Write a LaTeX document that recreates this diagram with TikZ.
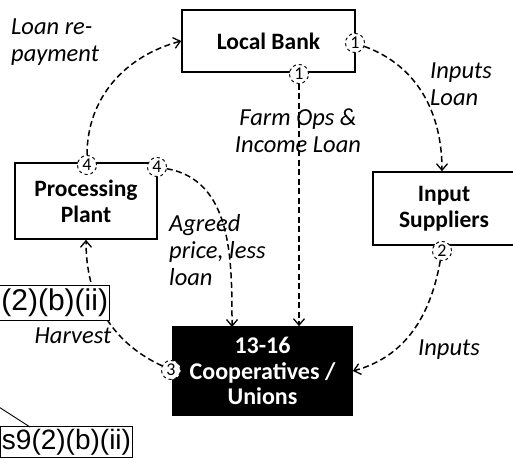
\documentclass[tikz,border=0pt]{standalone}
\usepackage{fontspec}
\setmainfont{Carlito}
\newfontfamily\reffont{Liberation Sans}
\usetikzlibrary{arrows.meta}
\begin{document}
\begin{tikzpicture}[x=1pt,y=-1pt,
  box/.style={draw=black, line width=1.6pt, fill=white, align=center, inner sep=0pt,
    font=\fontsize{23.5}{26}\selectfont\bfseries},
  num/.style={circle, draw=black, dashed, line width=0.8pt, fill=white, inner sep=0pt,
    minimum size=19pt, font=\fontsize{18}{18}\selectfont},
  flow/.style={line width=1.5pt, dash pattern=on 6pt off 3.5pt,
    -{Straight Barb[length=6.5pt,width=11pt,line width=1.3pt]}},
  lab/.style={font=\fontsize{24.5}{27}\selectfont\itshape, align=left, inner sep=0pt},
  refbox/.style={draw=black, line width=0.9pt, fill=white, inner sep=1.5pt,
    font=\reffont\fontsize{28}{30}\selectfont}
]
\clip (0,0) rectangle (513,458);
\useasboundingbox (0,0) rectangle (513,458);
\fill[white] (0,0) rectangle (513,458);

% main boxes
\node[box, minimum width=173pt, minimum height=62pt] (bank) at (268.5,41) {Local Bank};
\node[box, minimum width=142pt, minimum height=76pt] (plant) at (86,201) {Processing\\Plant};
\node[box, minimum width=142pt, minimum height=73pt] (supp) at (444,208.5) {Input\\Suppliers};
\node[box, fill=black, text=white, minimum width=179pt, minimum height=88pt,
  font=\fontsize{24}{25.5}\selectfont\bfseries] (coop) at (262.5,371) {13-16\\Cooperatives /\\Unions};

% step markers
\node[num] (c1r) at (355,43) {1};
\node[num] (c1b) at (299,74) {1};
\node[num] (c4a) at (87,165) {4};
\node[num] (c4b) at (157,167) {4};
\node[num] (c2) at (442,251) {2};
\node[num] (c3) at (171,370) {3};

\coordinate (agIn) at (232,327);

% flows
\draw[flow] (c4a) to[out=90,in=195] (bank.west);
\draw[flow] (c1b) -- (c1b |- coop.north);
\draw[flow] (c1r) to[out=-20,in=90] (c2 |- supp.north);
\draw[flow] (c2) to[out=-100,in=15] (coop.east);
\draw[flow] (c4b) to[out=-10,in=90] (agIn);
\draw[flow] (c3) to[out=155,in=-90] (plant.south);

% redraw markers on top
\node[num] at (c1r) {1};
\node[num] at (c1b) {1};
\node[num] at (c4a) {4};
\node[num] at (c4b) {4};
\node[num] at (c2) {2};
\node[num] at (c3) {3};

% labels
\node[lab, anchor=west] (lLoan) at (11,42) {Loan re-\\payment};
\node[lab, align=center] (lFarm) at (298,131) {Farm Ops \&\\Income Loan};
\node[lab, anchor=west] (lInL) at (430,84) {Inputs\\Loan};
\node[lab, anchor=west] (lAgr) at (169,250) {Agreed\\price, less\\loan};
\node[lab] (lHarv) at (73,336) {Harvest};
\node[lab] (lInp) at (449,350) {Inputs};

% reference stamps
\node[refbox, anchor=east, minimum height=35pt, text width=140pt, align=right,
  font=\reffont\fontsize{30}{32}\selectfont] (r1) at (110,302.5) {(2)(b)(ii)};
\node[refbox, anchor=east, minimum height=31pt] (r2) at (133,442) {s9(2)(b)(ii)};
\coordinate (r2tip) at (30,427);
\coordinate (callout) at (-12,400);
\draw[line width=0.9pt] (callout) -- (r2tip);
\end{tikzpicture}
\end{document}
